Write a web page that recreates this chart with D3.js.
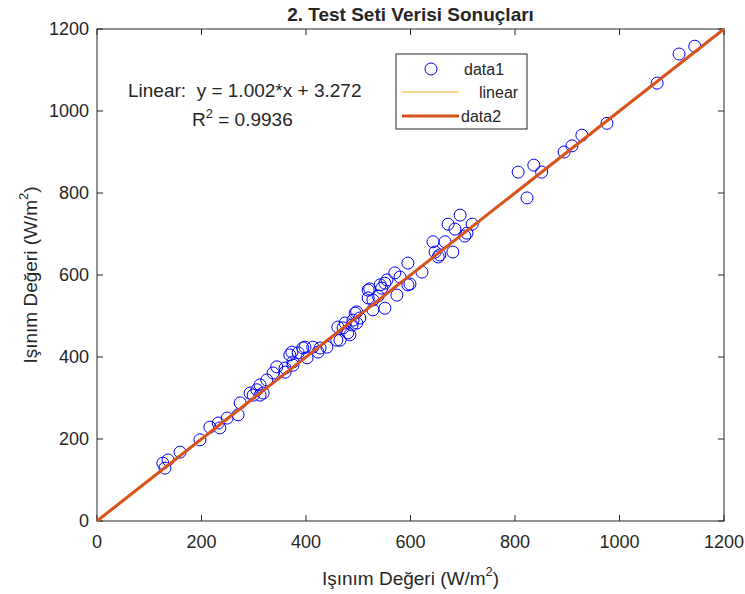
<!DOCTYPE html>
<html>
<head>
<meta charset="utf-8">
<script src="https://cdn.jsdelivr.net/npm/d3@7"></script>
<style>
  body { margin: 0; background: #fff; }
  text { font-family: "Liberation Sans", Arial, sans-serif; fill: #262626; }
</style>
</head>
<body>
<div id="chart"></div>
<script>
const dataX = [130, 136, 126, 159, 197, 216, 232, 235, 249, 270, 274, 293, 306, 318, 312, 299,
  312, 325, 344, 360, 337, 373, 375, 394, 402, 413, 423, 385, 369, 360, 375, 398, 427, 440,
  461, 480, 497, 459, 471, 488, 475, 484, 465, 494, 503, 490, 497, 528, 551, 538, 519, 574,
  522, 545, 551, 555, 570, 599, 528, 542, 519,
  580, 595, 622, 595, 653, 656, 681, 647, 643, 666, 704, 708, 685, 718, 672, 695,
  806, 823, 836, 851, 894, 909, 928, 976, 1072, 1114, 1144];
const dataY = [129, 149, 141, 168, 198, 229, 239, 227, 251, 259, 288, 312, 320, 312, 332, 307,
  307, 344, 376, 363, 361, 412, 388, 422, 398, 424, 412, 410, 405, 373, 380, 424, 422, 424,
  473, 459, 483, 441, 471, 478, 483, 454, 441, 507, 495, 490, 510, 515, 519, 549, 544, 551,
  566, 568, 580, 588, 605, 578, 539, 576, 563,
  595, 576, 607, 629, 644, 649, 656, 656, 681, 681, 695, 702, 712, 724, 724, 746,
  851, 788, 868, 851, 900, 915, 941, 970, 1068, 1139, 1158];

const xTicks = [0, 200, 400, 600, 800, 1000, 1200];
const yTicks = [0, 200, 400, 600, 800, 1000, 1200];
const fitSlope = 1.002, fitIntercept = 3.272;
const lineRange = [0, 1200];

const W = 745, H = 594;
const margin = {top: 29, right: 21, bottom: 73, left: 97};
const width = W - margin.left - margin.right;
const height = H - margin.top - margin.bottom;

const svg = d3.select("#chart").append("svg")
    .attr("width", W)
    .attr("height", H);

const g = svg.append("g")
    .attr("transform", `translate(${margin.left},${margin.top})`);

const x = d3.scaleLinear().domain([0, 1200]).range([0, width]);
const y = d3.scaleLinear().domain([0, 1200]).range([height, 0]);

// axes box
g.append("rect")
    .attr("width", width).attr("height", height)
    .attr("fill", "#fff").attr("stroke", "#262626").attr("stroke-width", 1);

// ticks (matlab style: inside, all four sides)
const tl = 6;
xTicks.forEach(t => {
    g.append("line").attr("x1", x(t)).attr("x2", x(t)).attr("y1", height).attr("y2", height - tl).attr("stroke", "#262626");
    g.append("line").attr("x1", x(t)).attr("x2", x(t)).attr("y1", 0).attr("y2", tl).attr("stroke", "#262626");
    g.append("text").attr("x", x(t)).attr("y", height + 27)
        .attr("text-anchor", "middle").attr("font-size", 18).text(t);
});
yTicks.forEach(t => {
    g.append("line").attr("x1", 0).attr("x2", tl).attr("y1", y(t)).attr("y2", y(t)).attr("stroke", "#262626");
    g.append("line").attr("x1", width).attr("x2", width - tl).attr("y1", y(t)).attr("y2", y(t)).attr("stroke", "#262626");
    g.append("text").attr("x", -8).attr("y", y(t) + 6)
        .attr("text-anchor", "end").attr("font-size", 18).text(t);
});

// data points
g.selectAll(".pt")
    .data(dataX.map((d, i) => ({x: d, y: dataY[i]})))
    .enter().append("circle")
    .attr("class", "pt")
    .attr("cx", d => x(d.x))
    .attr("cy", d => y(d.y))
    .attr("r", 6)
    .attr("fill", "none")
    .attr("stroke", "#0000ff")
    .attr("stroke-width", 1);

// linear fit
g.append("line")
    .attr("x1", x(lineRange[0])).attr("y1", y(fitSlope * lineRange[0] + fitIntercept))
    .attr("x2", x(lineRange[1])).attr("y2", y(Math.min(1200, fitSlope * lineRange[1] + fitIntercept)))
    .attr("stroke", "#EDB120").attr("stroke-width", 1);

// data2 (y = x)
g.append("line")
    .attr("x1", x(lineRange[0])).attr("y1", y(lineRange[0]))
    .attr("x2", x(lineRange[1])).attr("y2", y(lineRange[1]))
    .attr("stroke", "#D95319").attr("stroke-width", 3);

// annotation
svg.append("text").attr("x", 128).attr("y", 97).attr("font-size", 19)
    .attr("xml:space", "preserve").text("Linear:  y = 1.002*x + 3.272");
const r2 = svg.append("text").attr("x", 192).attr("y", 126).attr("font-size", 19);
r2.append("tspan").text("R");
r2.append("tspan").attr("dy", -8).attr("font-size", 13).text("2");
r2.append("tspan").attr("dy", 8).text(" = 0.9936");

// legend
const lg = svg.append("g");
lg.append("rect").attr("x", 396).attr("y", 54).attr("width", 131).attr("height", 75)
    .attr("fill", "#fff").attr("stroke", "#262626").attr("stroke-width", 1);
lg.append("circle").attr("cx", 431).attr("cy", 69).attr("r", 6)
    .attr("fill", "none").attr("stroke", "#0000ff");
lg.append("text").attr("x", 464).attr("y", 75).attr("font-size", 16).text("data1");
lg.append("line").attr("x1", 402).attr("x2", 459).attr("y1", 92).attr("y2", 92)
    .attr("stroke", "#EDB120").attr("stroke-width", 1);
lg.append("text").attr("x", 479).attr("y", 98).attr("font-size", 16).text("linear");
lg.append("line").attr("x1", 402).attr("x2", 459).attr("y1", 116).attr("y2", 116)
    .attr("stroke", "#D95319").attr("stroke-width", 3);
lg.append("text").attr("x", 461).attr("y", 122).attr("font-size", 16).text("data2");

// title
svg.append("text").attr("x", margin.left + width / 2).attr("y", 21)
    .attr("text-anchor", "middle").attr("font-size", 19).attr("font-weight", "bold")
    .style("font-family", "'Liberation Sans Narrow', 'Liberation Sans', Arial, sans-serif")
    .attr("fill", "#000").text("2. Test Seti Verisi Sonuçları");

// axis labels
const xl = svg.append("text").attr("x", margin.left + width / 2).attr("y", 585)
    .attr("text-anchor", "middle").attr("font-size", 19);
xl.append("tspan").text("Işınım Değeri (W/m");
xl.append("tspan").attr("dy", -9).attr("font-size", 13).text("2");
xl.append("tspan").attr("dy", 9).text(")");

const yl = svg.append("text")
    .attr("transform", `translate(37,${margin.top + height / 2}) rotate(-90)`)
    .attr("text-anchor", "middle").attr("font-size", 19);
yl.append("tspan").text("Işınım Değeri (W/m");
yl.append("tspan").attr("dy", -9).attr("font-size", 13).text("2");
yl.append("tspan").attr("dy", 9).text(")");
</script>
</body>
</html>
